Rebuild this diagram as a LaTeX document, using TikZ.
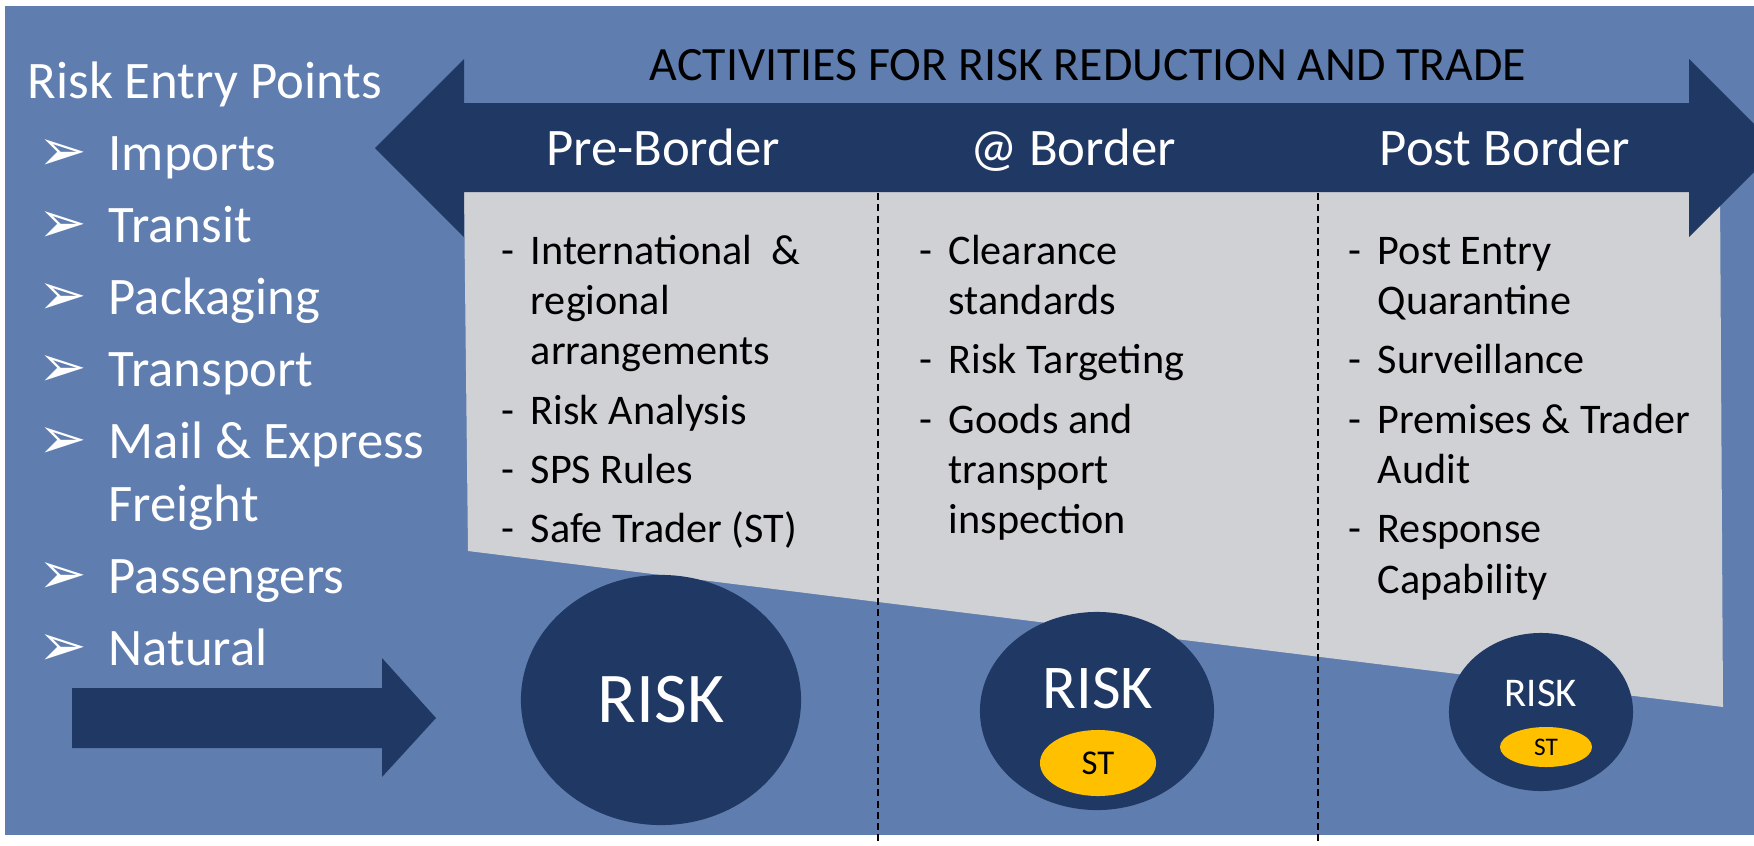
\documentclass[tikz,border=0pt]{standalone}
\usepackage{fontspec}
\setmainfont{Carlito}
\newfontfamily\symfont{DejaVu Sans}
\usetikzlibrary{shapes.geometric,positioning}
\definecolor{bgblue}{RGB}{95,125,175}
\definecolor{navy}{RGB}{32,56,100}
\definecolor{panel}{RGB}{208,209,213}
\definecolor{gold}{RGB}{255,192,0}
\newcommand{\pnt}{\makebox[19.9pt][l]{\symfont\fontsize{16.5}{16}\selectfont ➢}}
\begin{document}
\begin{tikzpicture}[x=0.01cm, y=-0.01cm,
    entry/.style = {anchor=base west, inner sep=0pt, text=white, font=\fontsize{15}{17.9}\selectfont},
    body/.style = {anchor=base west, inner sep=0pt, font=\fontsize{12}{14.3}\selectfont},
    phase/.style = {anchor=base, inner sep=0pt, text=white, font=\fontsize{15}{18}\selectfont},
    risk/.style = {ellipse, fill=navy, inner sep=0pt, text=white},
    st/.style = {ellipse, fill=gold, inner sep=0pt, text=black},
    divider/.style = {black, line width=0.55pt, dash pattern=on 2pt off 1.2pt}]
    \useasboundingbox (0,0) rectangle (1754,845);
    \clip (0,0) rectangle (1754,845);
    \fill[bgblue] (5,6) rectangle (1754,835);
    % grey panel and the double arrow
    \fill[panel] (464,192) -- (1720,192) -- (1723,707) -- (468,551) -- cycle;
    \fill[navy] (375,148) -- (464,59) -- (464,103) -- (1689,103) -- (1689,59) -- (1778,148)
        -- (1689,237) -- (1689,192) -- (464,192) -- (464,237) -- cycle;
    \draw[divider] (878,193) -- (878,845);
    \draw[divider] (1318,193) -- (1318,845);
    % entry arrow
    \fill[navy] (72,688) -- (382,688) -- (382,658) -- (436,718) -- (382,777) -- (382,748) -- (72,748) -- cycle;

    \node[anchor=base, inner sep=0pt, font=\fontsize{13.6}{16}\selectfont] (title) at (1088,80) {ACTIVITIES FOR RISK REDUCTION AND TRADE};
    \node[phase] (prehead) at (663,165) {Pre-Border};
    \node[phase] (athead) at (1073,165) {@ Border};
    \node[phase] (posthead) at (1505,165) {Post Border};

    \node[entry] (points) at (27,98) {Risk Entry Points};
    \node[entry] (entries) at (38,170) {\begin{tabular}[t]{@{}l@{}l@{}}
        \pnt & Imports\\[2.6pt]
        \pnt & Transit\\[2.6pt]
        \pnt & Packaging\\[2.6pt]
        \pnt & Transport\\[2.6pt]
        \pnt & Mail \& Express\\
             & Freight\\[2.6pt]
        \pnt & Passengers\\[2.6pt]
        \pnt & Natural
    \end{tabular}};

    \node[body] (pre) at (501,264) {\begin{tabular}[t]{@{}l@{\hspace{4.6pt}}l@{}}
        - & International\ \ \&\\
          & regional\\
          & arrangements\\[2.6pt]
        - & Risk Analysis\\[2.6pt]
        - & SPS Rules\\[2.6pt]
        - & Safe Trader (ST)
    \end{tabular}};
    \node[body] (at) at (919,264) {\begin{tabular}[t]{@{}l@{\hspace{4.6pt}}l@{}}
        - & Clearance\\
          & standards\\[2.6pt]
        - & Risk Targeting\\[2.6pt]
        - & Goods and\\
          & transport\\
          & inspection
    \end{tabular}};
    \node[body] (post) at (1348,264) {\begin{tabular}[t]{@{}l@{\hspace{4.6pt}}l@{}}
        - & Post Entry\\
          & Quarantine\\[2.6pt]
        - & Surveillance\\[2.6pt]
        - & Premises \& Trader\\
          & Audit\\[2.6pt]
        - & Response\\
          & Capability
    \end{tabular}};

    % risk ellipses
    \node[risk, minimum width=2.8cm, minimum height=2.5cm, font=\fontsize{20.3}{22}\selectfont] (riskpre) at (661,700) {RISK};
    \node[risk, minimum width=2.34cm, minimum height=1.98cm] (riskat) at (1097,711) {};
    \node[anchor=base, inner sep=0pt, text=white, font=\fontsize{17.7}{20}\selectfont] (riskattxt) at (1098,708) {RISK};
    \node[st, minimum width=1.16cm, minimum height=0.66cm, font=\fontsize{9.9}{11}\selectfont] (stat) at (1098,763) {ST};
    \node[risk, minimum width=1.84cm, minimum height=1.58cm] (riskpost) at (1541,712) {};
    \node[anchor=base, inner sep=0pt, text=white, font=\fontsize{11.6}{13}\selectfont] (riskposttxt) at (1541,706) {RISK};
    \node[st, minimum width=0.92cm, minimum height=0.40cm, font=\fontsize{7.2}{8}\selectfont] (stpost) at (1546,747) {ST};
\end{tikzpicture}
\end{document}
